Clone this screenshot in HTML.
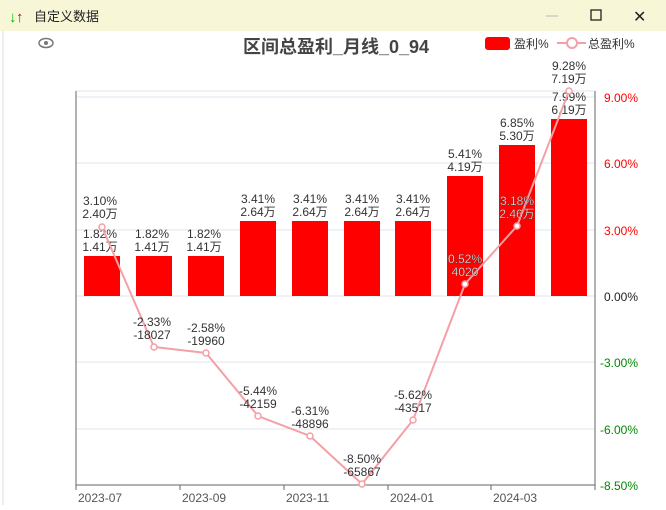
<!DOCTYPE html><html><head><meta charset="utf-8"><style>
body{margin:0;width:666px;height:505px;overflow:hidden;background:#fff;font-family:"Liberation Sans","Noto Sans CJK SC",sans-serif}
</style></head><body>
<svg width="666" height="505" xmlns="http://www.w3.org/2000/svg" font-family="Liberation Sans, Noto Sans CJK SC, sans-serif">
<rect x="0" y="0" width="666" height="505" fill="#fff"/>
<rect x="0" y="0" width="666" height="31" fill="#f7f6d6"/>
<line x1="3" y1="31" x2="3" y2="505" stroke="#ddd"/>
<text x="9" y="22" font-size="15" fill="#0b0" font-weight="bold">↓</text>
<text x="16" y="22" font-size="15" fill="#e00" font-weight="bold">↑</text>
<text x="34" y="21" font-size="13" fill="#222">自定义数据</text>
<line x1="546" y1="16" x2="558" y2="16" stroke="#bbb"/>
<rect x="591" y="10" width="10" height="10" fill="none" stroke="#222" stroke-width="1.3"/>
<text x="633" y="22" font-size="16" fill="#222">✕</text>
<ellipse cx="46" cy="43" rx="7" ry="4.5" fill="none" stroke="#777" stroke-width="1.5"/><circle cx="46" cy="43" r="2" fill="#777"/>
<text x="336" y="53" font-size="18" font-weight="bold" fill="#444" text-anchor="middle">区间总盈利_月线_0_94</text>
<rect x="485" y="37" width="25" height="13" rx="3" fill="#f00"/>
<text x="514" y="48" font-size="12" fill="#333">盈利%</text>
<line x1="557" y1="43" x2="586" y2="43" stroke="#f4a0a6" stroke-width="2"/><circle cx="572" cy="43" r="5" fill="#fff" stroke="#f4a0a6" stroke-width="2"/>
<text x="588" y="48" font-size="12" fill="#333">总盈利%</text>
<g stroke="#e2e6ef" stroke-width="1">
<line x1="76" y1="91" x2="595" y2="91"/><line x1="76" y1="97" x2="595" y2="97"/><line x1="76" y1="163" x2="595" y2="163"/><line x1="76" y1="230" x2="595" y2="230"/><line x1="76" y1="296" x2="595" y2="296"/><line x1="76" y1="362" x2="595" y2="362"/><line x1="76" y1="429" x2="595" y2="429"/>
</g>
<line x1="76" y1="91" x2="76" y2="485" stroke="#666"/>
<line x1="595" y1="91" x2="595" y2="485" stroke="#666"/>
<line x1="76" y1="485" x2="595" y2="485" stroke="#666"/>
<g stroke="#666"><line x1="76" y1="485" x2="76" y2="490"/><line x1="180" y1="485" x2="180" y2="490"/><line x1="284" y1="485" x2="284" y2="490"/><line x1="388" y1="485" x2="388" y2="490"/><line x1="491" y1="485" x2="491" y2="490"/><line x1="595" y1="485" x2="595" y2="490"/></g>
<g font-size="12" fill="#555"><text x="78" y="502">2023-07</text><text x="182" y="502">2023-09</text><text x="286" y="502">2023-11</text><text x="390" y="502">2024-01</text><text x="493" y="502">2024-03</text></g>
<g font-size="12"><text x="604" y="102" fill="#f00">9.00%</text><text x="604" y="168" fill="#f00">6.00%</text><text x="604" y="235" fill="#f00">3.00%</text><text x="604" y="301" fill="#222">0.00%</text><text x="600" y="367" fill="#080">-3.00%</text><text x="600" y="434" fill="#080">-6.00%</text><text x="600" y="490" fill="#080">-8.50%</text></g>
<g fill="#f00">
<rect x="84" y="256" width="36" height="40"/><rect x="136" y="256" width="36" height="40"/><rect x="188" y="256" width="36" height="40"/><rect x="240" y="221" width="36" height="75"/><rect x="292" y="221" width="36" height="75"/><rect x="344" y="221" width="36" height="75"/><rect x="395" y="221" width="36" height="75"/><rect x="447" y="176" width="36" height="120"/><rect x="499" y="145" width="36" height="151"/><rect x="551" y="119" width="36" height="177"/>
</g>
<g font-size="12" fill="#333" text-anchor="middle">
<text x="100" y="238">1.82%</text><text x="100" y="251">1.41万</text>
<text x="152" y="238">1.82%</text><text x="152" y="251">1.41万</text>
<text x="204" y="238">1.82%</text><text x="204" y="251">1.41万</text>
<text x="258" y="203">3.41%</text><text x="258" y="216">2.64万</text>
<text x="310" y="203">3.41%</text><text x="310" y="216">2.64万</text>
<text x="362" y="203">3.41%</text><text x="362" y="216">2.64万</text>
<text x="413" y="203">3.41%</text><text x="413" y="216">2.64万</text>
<text x="465" y="158">5.41%</text><text x="465" y="171">4.19万</text>
<text x="517" y="127">6.85%</text><text x="517" y="140">5.30万</text>
<text x="569" y="101">7.99%</text><text x="569" y="114">6.19万</text>
</g>
<polyline points="102,227 154,347 206,353 258,416 310,436 362,484 413,420 465,284 517,226 569,91" fill="none" stroke="#f4a0a6" stroke-width="2"/>
<g fill="#fff" stroke="#f4a0a6" stroke-width="1.5">
<circle cx="102" cy="227" r="3"/><circle cx="154" cy="347" r="3"/><circle cx="206" cy="353" r="3"/><circle cx="258" cy="416" r="3"/><circle cx="310" cy="436" r="3"/><circle cx="362" cy="484" r="3"/><circle cx="413" cy="420" r="3"/><circle cx="465" cy="284" r="3"/><circle cx="517" cy="226" r="3"/><circle cx="569" cy="91" r="3"/>
</g>
<g font-size="12" fill="#333" text-anchor="middle">
<text x="100" y="205">3.10%</text><text x="100" y="218">2.40万</text>
<text x="152" y="326">-2.33%</text><text x="152" y="339">-18027</text>
<text x="206" y="332">-2.58%</text><text x="206" y="345">-19960</text>
<text x="258" y="395">-5.44%</text><text x="258" y="408">-42159</text>
<text x="310" y="415">-6.31%</text><text x="310" y="428">-48896</text>
<text x="362" y="463">-8.50%</text><text x="362" y="476">-65867</text>
<text x="413" y="399">-5.62%</text><text x="413" y="412">-43517</text>
<text x="465" y="263" fill="#fff" stroke="#333" stroke-width="0.3">0.52%</text><text x="465" y="276" fill="#fff" stroke="#333" stroke-width="0.3">4020</text>
<text x="517" y="205" fill="#fff" stroke="#333" stroke-width="0.3">3.18%</text><text x="517" y="218" fill="#fff" stroke="#333" stroke-width="0.3">2.46万</text>
<text x="569" y="70">9.28%</text><text x="569" y="83">7.19万</text>
</g>
</svg>
</body></html>
